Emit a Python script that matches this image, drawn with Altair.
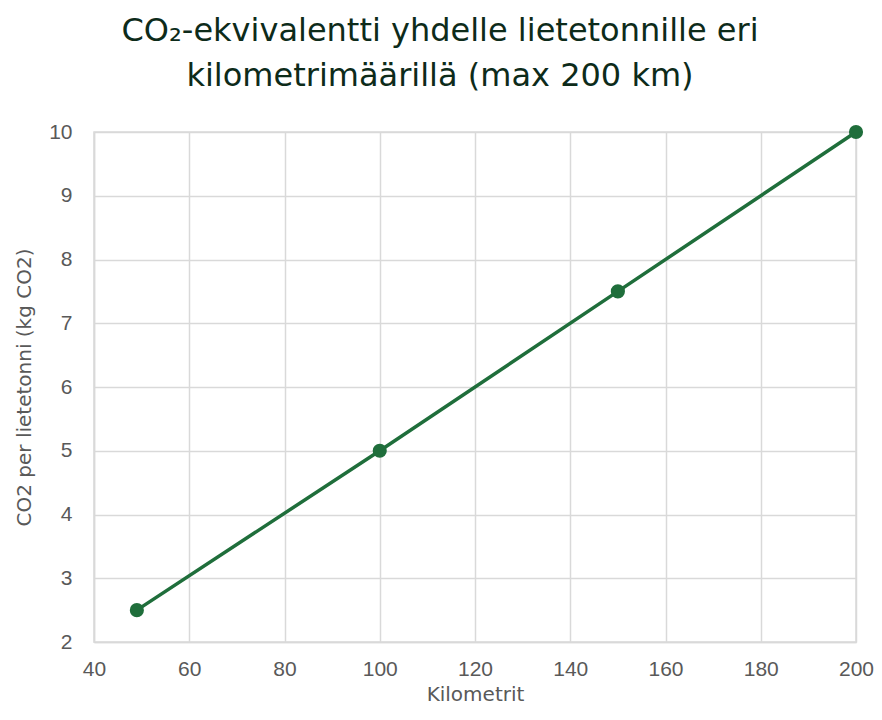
import altair as alt
import pandas as pd

km = [49, 100, 150, 200]
co2 = [2.5, 5.0, 7.5, 10.0]
x_ticks = [40, 60, 80, 100, 120, 140, 160, 180, 200]
y_ticks = [2, 3, 4, 5, 6, 7, 8, 9, 10]

df = pd.DataFrame({"km": km, "co2": co2})

GREEN = "#1f6e3b"
AXFONT = "Liberation Sans"
TFONT = "DejaVu Sans"

x = alt.X("km:Q", scale=alt.Scale(domain=[40, 200], nice=False),
          axis=alt.Axis(values=x_ticks, title="Kilometrit"))
y = alt.Y("co2:Q", scale=alt.Scale(domain=[2, 10], nice=False, zero=False),
          axis=alt.Axis(values=y_ticks, title="CO2 per lietetonni (kg CO2)"))

line = alt.Chart(df).mark_line(color=GREEN, strokeWidth=3.5).encode(x=x, y=y)
pts = alt.Chart(df).mark_point(color=GREEN, filled=True, opacity=1, size=200).encode(x=x, y=y)

chart = (line + pts).properties(
    width=762,
    height=510,
    autosize=alt.AutoSizeParams(type="none"),
    padding={"left": 86, "top": 124, "right": 18, "bottom": 64},
    title=alt.TitleParams(
        text=["CO₂-ekvivalentti yhdelle lietetonnille eri", "kilometrimäärillä (max 200 km)"],
        fontSize=32, font=TFONT, fontWeight="normal", color="#0d2b1a",
        lineHeight=45, anchor="middle", dx=-35, offset=28,
    ),
).configure_view(stroke="#d9d9d9", strokeWidth=1.5).configure_axis(
    grid=True, gridColor="#d9d9d9", gridWidth=1.5,
    domainColor="#d9d9d9", domainWidth=1.5,
    ticks=False, labelFont=AXFONT, labelFontSize=21, labelColor="#595959",
    labelFlush=False, labelOverlap=False,
    titleFont=TFONT, titleFontSize=20, titleFontWeight="normal", titleColor="#595959",
).configure_axisX(labelPadding=16, titlePadding=5).configure_axisY(labelPadding=22, titlePadding=14)

chart.save("out.html", embed_options={"renderer": "svg", "actions": False})
